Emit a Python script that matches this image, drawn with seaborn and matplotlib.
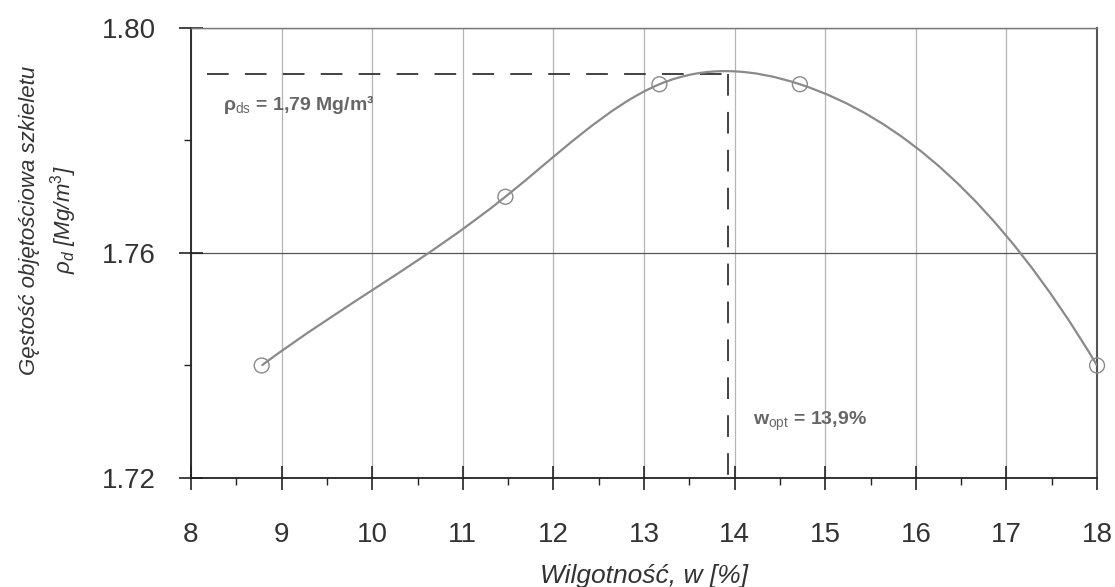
import numpy as np
import matplotlib
matplotlib.use("Agg")
import matplotlib.pyplot as plt
from matplotlib.path import Path
from matplotlib.patches import PathPatch
from matplotlib.ticker import MultipleLocator, FormatStrFormatter
import seaborn as sns
import pandas as pd

# measured points: moisture [%] vs dry density [Mg/m3]
moisture = [8.78, 11.47, 13.17, 14.72, 18.0]
density = [1.740, 1.770, 1.790, 1.790, 1.740]

# end slopes of the drawn curve
slope_start = 0.012
slope_end = -0.027

# optimum
w_opt = 13.93
rho_max = 1.7918

x_ticks = list(range(8, 19))
y_ticks = [1.72, 1.76, 1.80]

GREY = "#8a8a8a"
TXT = "#333333"


def smooth_path(x, y, s_a, s_b):
    # clamped cubic spline through the points, drawn as bezier segments
    x = np.asarray(x, float)
    y = np.asarray(y, float)
    h = np.diff(x)
    n = len(x)
    A = np.zeros((n, n))
    b = np.zeros(n)
    A[0, 0], A[0, 1] = 2 * h[0], h[0]
    b[0] = 6 * ((y[1] - y[0]) / h[0] - s_a)
    A[-1, -2], A[-1, -1] = h[-1], 2 * h[-1]
    b[-1] = 6 * (s_b - (y[-1] - y[-2]) / h[-1])
    for i in range(1, n - 1):
        A[i, i - 1] = h[i - 1]
        A[i, i] = 2 * (h[i - 1] + h[i])
        A[i, i + 1] = h[i]
        b[i] = 6 * ((y[i + 1] - y[i]) / h[i] - (y[i] - y[i - 1]) / h[i - 1])
    m = np.linalg.solve(A, b)
    verts = [(x[0], y[0])]
    codes = [Path.MOVETO]
    for i in range(n - 1):
        d = (y[i + 1] - y[i]) / h[i]
        s0 = d - h[i] * (2 * m[i] + m[i + 1]) / 6
        s1 = d + h[i] * (m[i] + 2 * m[i + 1]) / 6
        verts += [(x[i] + h[i] / 3, y[i] + s0 * h[i] / 3),
                  (x[i + 1] - h[i] / 3, y[i + 1] - s1 * h[i] / 3),
                  (x[i + 1], y[i + 1])]
        codes += [Path.CURVE4] * 3
    return Path(verts, codes)


sns.set_style("white")
plt.rcParams['font.family'] = ['Liberation Sans', 'DejaVu Sans']
plt.rcParams['mathtext.fontset'] = 'custom'
plt.rcParams['mathtext.rm'] = 'Liberation Sans'
plt.rcParams['mathtext.it'] = 'Liberation Sans:italic'
plt.rcParams['mathtext.bf'] = 'Liberation Sans:bold'

df = pd.DataFrame({"w": moisture, "rho": density})

fig = plt.figure(figsize=(11.15, 5.87), dpi=100)
ax = fig.add_axes([0.1713, 0.1857, 0.8126, 0.7666])

ax.add_patch(PathPatch(smooth_path(moisture, density, slope_start, slope_end),
                       fill=False, edgecolor=GREY, lw=1.6, zorder=3))
sns.scatterplot(data=df, x="w", y="rho", ax=ax, s=115, marker="o",
                facecolor="none", edgecolor=GREY, linewidth=1.0, zorder=4,
                clip_on=False)

ax.plot([8.18, w_opt], [rho_max, rho_max], color="#333333", lw=1.3,
        dashes=(12, 9), zorder=2)
ax.plot([w_opt, w_opt], [rho_max, 1.72], color="#333333", lw=1.3,
        dashes=(12, 9), zorder=2)

ax.text(8.35, 1.7855, "ρ$_{\\mathrm{ds}}$ = 1,79 Mg/m³", fontsize=14,
        fontweight="bold", color="#666666")
ax.text(14.2, 1.7294, "w$_{\\mathrm{opt}}$ = 13,9%", fontsize=14,
        fontweight="bold", color="#666666")

ax.set_xlim(8, 18)
ax.set_ylim(1.72, 1.80)
ax.set_xticks(x_ticks)
ax.set_yticks(y_ticks)
ax.xaxis.set_minor_locator(MultipleLocator(0.5))
ax.yaxis.set_minor_locator(MultipleLocator(0.02))
ax.yaxis.set_major_formatter(FormatStrFormatter('%.2f'))
ax.tick_params(which="both", bottom=True, left=True, top=False, right=False)
ax.tick_params(which="major", direction="inout", length=17, width=1.2,
               labelsize=20, labelcolor=TXT, color="#222222")
ax.tick_params(axis="x", which="major", pad=23)
ax.tick_params(axis="y", which="major", pad=17)
ax.tick_params(which="minor", direction="out", length=5, width=1.0,
               color="#222222")

ax.grid(axis="x", which="major", color="#b5b5b5", lw=0.9)
ax.grid(axis="y", which="major", color="#555555", lw=0.9)

for side in ["left", "bottom"]:
    ax.spines[side].set_color("#222222")
    ax.spines[side].set_linewidth(1.3)
ax.spines["top"].set_color("#777777")
ax.spines["top"].set_linewidth(1.0)
ax.spines["right"].set_color("#555555")
ax.spines["right"].set_linewidth(1.5)

ax.set_xlabel("Wilgotność, w [%]", fontsize=19, style="italic", color=TXT,
              labelpad=12)
ax.set_ylabel("")
fig.text(0.044, 0.625, "Gęstość objętościowa szkieletu\n$\\rho_d$ [Mg/m$^3$]",
         rotation=90, ha="center", va="center", ma="center", fontsize=16,
         style="italic", color=TXT, linespacing=1.35)

fig.savefig("out.png", dpi=100)
